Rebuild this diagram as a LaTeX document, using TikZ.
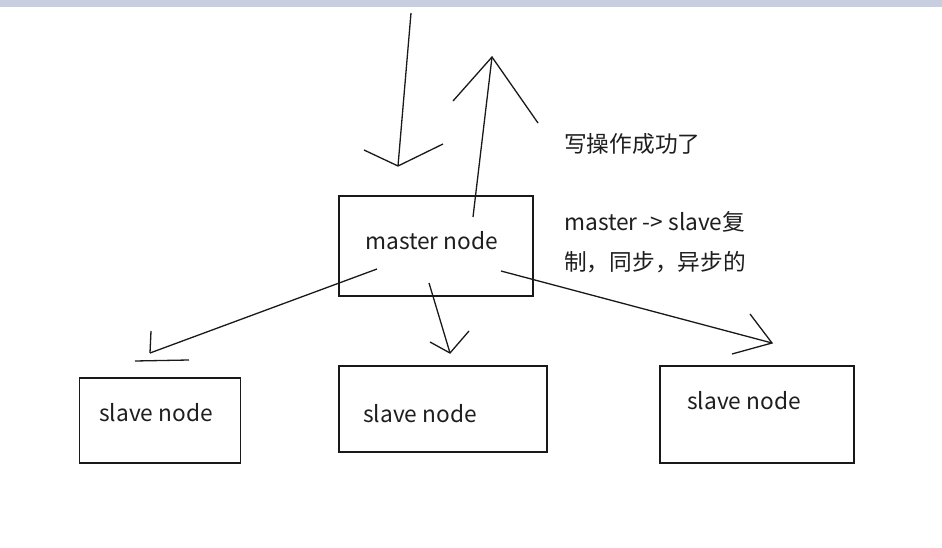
\documentclass[tikz,border=0pt]{standalone}
\usepackage{fontspec}
\setmainfont{Noto Sans CJK SC}
\definecolor{ink}{RGB}{25,25,25}
\definecolor{txt}{RGB}{30,30,30}
\definecolor{topbar}{RGB}{198,206,224}
\begin{document}
\begin{tikzpicture}[x=1pt,y=-1pt,
  box/.style={draw=ink, line width=1.3pt, inner sep=0pt},
  lbl/.style={text=txt, font=\fontsize{22.7}{26}\selectfont, inner sep=0pt, anchor=west},
  stroke/.style={draw=ink, line width=1.3pt}]
\useasboundingbox (0,0) rectangle (942,548);
\fill[white] (0,0) rectangle (942,548);
\fill[topbar] (0,0) rectangle (942,7);
% boxes
\node[box, minimum width=194pt, minimum height=100pt] (master) at (436,246) {};
\node[box, minimum width=161pt, minimum height=85pt] (s1) at (160,420.5) {};
\node[box, minimum width=208pt, minimum height=86pt] (s2) at (443,409) {};
\node[box, minimum width=194pt, minimum height=97pt] (s3) at (757,414.5) {};
% labels
\node[lbl] (tm) at (365,241) {master node};
\node[lbl] (t1) at (99,413) {slave node};
\node[lbl] (t2) at (363,414) {slave node};
\node[lbl] (t3) at (687,401) {slave node};
\node[lbl] (n1) at (564,144) {写操作成功了};
\node[lbl] (n2) at (564,222) {master -> slave复};
\node[lbl] (n3) at (564,262) {制，同步，异步的};
% arrow coordinates
\coordinate (inS) at (411,13);
\coordinate (inT) at (398,166);
\coordinate (inL) at (364,150);
\coordinate (inR) at (443,144);
\coordinate (upS) at (473,217);
\coordinate (upT) at (492,57);
\coordinate (upL) at (453,101);
\coordinate (upR) at (538,123);
\coordinate (aS) at (377,269);
\coordinate (aT) at (150,353);
\coordinate (aV) at (151,331);
\coordinate (aH1) at (135,361);
\coordinate (aH2) at (189,360);
\coordinate (bS) at (429,283);
\coordinate (bT) at (450,353);
\coordinate (bL) at (430,342);
\coordinate (bR) at (469,331);
\coordinate (cS) at (501,271);
\coordinate (cT) at (772,343);
\coordinate (cL) at (750,314);
\coordinate (cR) at (732,354);
% arrows
\draw[stroke] (inS) -- (inT);
\draw[stroke] (inL) -- (inT) -- (inR);
\draw[stroke] (upS) -- (upT);
\draw[stroke] (upL) -- (upT) -- (upR);
\draw[stroke] (aS) -- (aT);
\draw[stroke] (aV) -- (aT);
\draw[stroke] (aH1) -- (aH2);
\draw[stroke] (bS) -- (bT);
\draw[stroke] (bL) -- (bT) -- (bR);
\draw[stroke] (cS) -- (cT);
\draw[stroke] (cL) -- (cT) -- (cR);
\end{tikzpicture}
\end{document}
